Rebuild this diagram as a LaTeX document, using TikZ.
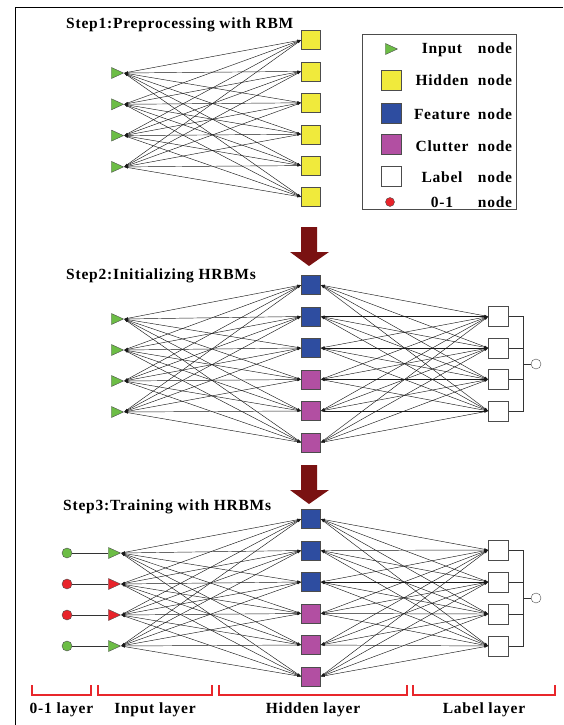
\documentclass[tikz,border=0pt]{standalone}
\usepackage{fontspec}
\setmainfont{Liberation Serif}[LetterSpace=5]
\usetikzlibrary{shapes.geometric,arrows.meta}

\definecolor{ingreen}{HTML}{6CBD45}
\definecolor{inred}{HTML}{E8232A}
\definecolor{hidyellow}{HTML}{F0EA3C}
\definecolor{featblue}{HTML}{2E4DA0}
\definecolor{clutpink}{HTML}{B24FA2}
\definecolor{stepred}{HTML}{7A1212}
\definecolor{brackred}{HTML}{E8262B}

\tikzset{
  txt/.style={font=\fontsize{15.5}{17}\selectfont\bfseries, inner sep=0pt},
  innode/.style={isosceles triangle, isosceles triangle stretches, shape border rotate=0,
    draw=black!70, fill=#1, inner sep=0pt, minimum width=11pt, minimum height=12pt},
  innode/.default=ingreen,
  sqnode/.style={rectangle, draw=black!70, fill=#1, inner sep=0pt, minimum size=19pt},
  bitnode/.style={circle, draw=black!70, fill=#1, inner sep=0pt, minimum size=10pt},
  link/.style={draw=black!90, line width=0.45pt,
    {Latex[length=4pt,width=2.2pt]}-{Latex[length=4pt,width=2.2pt]}},
  bus/.style={draw=black!80, line width=0.6pt},
  bracket/.style={draw=brackred, line width=1.8pt},
}

\begin{document}
\begin{tikzpicture}[x=1pt, y=-1pt]
  \useasboundingbox (0,0) rectangle (563,725);
  \draw[line width=1pt] (15,725) -- (15,8) -- (563,8);

  % step 1
  \node[txt, anchor=west] (t1) at (66,25) {Step1:Preprocessing with RBM};
  \foreach \i in {1,...,4}
    \node[innode, anchor=apex] (a\i) at (124,73+31.3*\i-31.3) {};
  \foreach \j in {1,...,6}
    \node[sqnode=hidyellow] (h\j) at (311,40+31.4*\j-31.4) {};
  \foreach \i in {1,...,4}
    \foreach \j in {1,...,6}
      \draw[link] (a\i.apex) -- (h\j.west);

  % legend
  \draw[black!70] (362,34) rectangle (516,209);
  \node[innode, anchor=apex] (k1) at (398,49) {};
  \node[sqnode=hidyellow, minimum size=20pt] (k2) at (391,80) {};
  \node[sqnode=featblue, minimum size=20pt] (k3) at (391,113) {};
  \node[sqnode=clutpink, minimum size=20pt] (k4) at (391,144) {};
  \node[sqnode=white, minimum size=20pt] (k5) at (391,176) {};
  \node[bitnode=inred, minimum size=9pt] (k6) at (390,202) {};
  \foreach \w/\y [count=\n] in {Input/49, Hidden/80, Feature/114, Clutter/146, Label/177, 0-1/202} {
    \node[txt, anchor=base] (kw\n) at (442,\y+5) {\w};
    \node[txt, anchor=base] (kn\n) at (495,\y+5) {node};
  }

  \fill[stepred] (301,227) -- (317,227) -- (317,252) -- (329,252) -- (309,266)
    -- (290,252) -- (301,252) -- cycle;

  % step 2
  \node[txt, anchor=west] (t2) at (66,276) {Step2:Initializing HRBMs};
  \foreach \i in {1,...,4}
    \node[innode, anchor=apex] (b\i) at (124,319+31*\i-31) {};
  \foreach \j/\c in {1/featblue,2/featblue,3/featblue,4/clutpink,5/clutpink,6/clutpink}
    \node[sqnode=\c] (f\j) at (311,285+31.5*\j-31.5) {};
  \foreach \k in {1,...,4}
    \node[sqnode=white, minimum size=20pt] (l\k) at (498.5,316.5+31.5*\k-31.5) {};
  \foreach \i in {1,...,4}
    \foreach \j in {1,...,6}
      \draw[link] (b\i.apex) -- (f\j.west);
  \foreach \j in {1,...,6}
    \foreach \k in {1,...,4}
      \draw[link] (f\j.east) -- (l\k.west);
  \foreach \k in {1,...,4}
    \draw[bus] (l\k.east) -- ++(15,0) coordinate (u\k);
  \draw[bus] (u1) -- (u4);
  \node[bitnode=white] (o2) at (536,364) {};
  \draw[bus] (o2.west) -- (o2.west -| u1);

  \fill[stepred] (301,465) -- (317,465) -- (317,490) -- (329,490) -- (309,504)
    -- (290,490) -- (301,490) -- cycle;

  % step 3
  \node[txt, anchor=west] (t3) at (63,507) {Step3:Training with HRBMs};
  \foreach \i/\c in {1/ingreen,2/inred,3/inred,4/ingreen} {
    \node[innode=\c, anchor=apex] (c\i) at (121,553+31*\i-31) {};
    \node[bitnode=\c] (z\i) at (67,553+31*\i-31) {};
    \draw[bus] (z\i.east) -- (c\i.west);
  }
  \foreach \j/\c in {1/featblue,2/featblue,3/featblue,4/clutpink,5/clutpink,6/clutpink}
    \node[sqnode=\c] (g\j) at (311,519+31.5*\j-31.5) {};
  \foreach \k in {1,...,4}
    \node[sqnode=white, minimum size=20pt] (m\k) at (498.5,550+32*\k-32) {};
  \foreach \i in {1,...,4}
    \foreach \j in {1,...,6}
      \draw[link] (c\i.apex) -- (g\j.west);
  \foreach \j in {1,...,6}
    \foreach \k in {1,...,4}
      \draw[link] (g\j.east) -- (m\k.west);
  \foreach \k in {1,...,4}
    \draw[bus] (m\k.east) -- ++(15,0) coordinate (v\k);
  \draw[bus] (v1) -- (v4);
  \node[bitnode=white] (o3) at (536,598) {};
  \draw[bus] (o3.west) -- (o3.west -| v1);

  % layers
  \foreach \xa/\xb/\w [count=\n] in {32/91/0-1 layer, 98/212/Input layer, 219/407/Hidden layer, 413/555/Label layer} {
    \draw[bracket] (\xa,685) -- (\xa,695) -- (\xb,695) -- (\xb,685);
    \node[txt] (y\n) at ({(\xa+\xb)/2},710) {\w};
  }
\end{tikzpicture}
\end{document}
